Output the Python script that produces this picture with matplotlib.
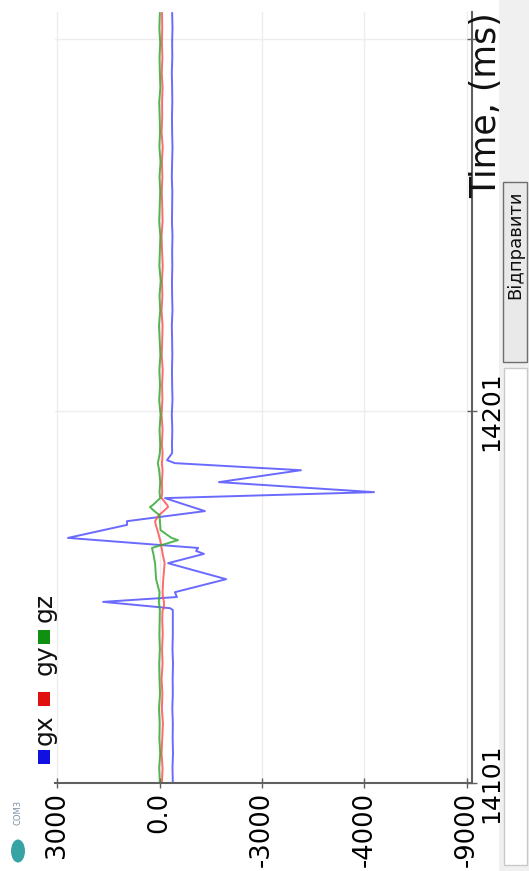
import matplotlib
matplotlib.use("Agg")
import matplotlib.pyplot as plt
from matplotlib.patches import Rectangle, Circle

plt.rcParams['font.family'] = ['DejaVu Sans']
plt.rcParams['axes.unicode_minus'] = False

# ---- gyroscope samples (time in ms, raw readings) ----
time_ms = [
    14101, 14105, 14109, 14113, 14117, 14121, 14125, 14129, 14133, 14137, 14141, 14145,
    14147.5, 14148.0, 14149.7, 14151.0, 14152.3, 14155.8, 14160.1, 14162.6, 14163.4,
    14164.2, 14166.3, 14166.9, 14169.0, 14170.4, 14171.4, 14173.0, 14174.1, 14175.2,
    14175.7, 14177.6, 14179.2, 14181.9, 14185.1, 14187.0, 14187.8, 14189.7,
    14192, 14196, 14200, 14204, 14208, 14212, 14216, 14220, 14224, 14228,
    14232, 14236, 14240, 14244, 14248, 14252, 14256, 14260, 14264, 14268,
    14272, 14276, 14280, 14284, 14288, 14292, 14296, 14300, 14304, 14308,
]
gx = [
    -390, -380, -395, -385, -390, -375, -390, -385, -395, -380, -390, -390,
    -390, -310, 1650, -510, -450, -1950, -250, -1300, -1070,
    -1130, 1830, 2680, 1640, 950, 950, -400, -1330, -960,
    -790, -160, -6280, -1740, -4140, -450, -220, -370,
    -365, -375, -360, -380, -370, -365, -375, -370, -360, -380,
    -370, -365, -375, -370, -380, -365, -370, -375, -360, -370,
    -380, -370, -365, -375, -370, -360, -375, -370, -380, -370,
]
gy = [
    -70, -90, -60, -80, -100, -70, -85, -60, -90, -75, -95, -80,
    -90, -130, -130, -100, -90, -110, -150, -90, -80,
    -60, -20, 0, 60, 110, 130, 20, -120, -250,
    -230, -60, -80, -70, -90, -70, -80, -90,
    -70, -90, -60, -85, -75, -95, -65, -80, -90, -60,
    -85, -70, -95, -75, -60, -90, -80, -65, -85, -70,
    -95, -60, -80, -75, -90, -65, -85, -70, -80, -75,
]
gz = [
    -10, 10, -20, 5, -5, 15, -15, 0, 10, -10, 5, -5,
    -10, 0, 20, 10, 0, 100, 130, 180, 200,
    220, -540, -350, -30, -20, -10, 0, 150, 280,
    200, -20, 0, -20, 10, 50, 30, -10,
    -20, 0, -30, 10, -15, 5, -25, -5, 15, -20,
    0, -35, 5, -10, -25, 10, -5, -20, 0, -30,
    5, -15, -5, 10, -25, -10, 0, -20, 5, -10,
]

series_names = ['gx', 'gy', 'gz']
series_colors = ['#5050ff', '#ff5050', '#33aa33']

value_ticks = [3000, 0, -3000, -6000, -9000]
value_tick_labels = ['3000', '0.0', '-3000', '-4000', '-9000']
time_ticks = [14101, 14201, 14301]
time_tick_labels = ['14101', '14201', '']

W, H = 529, 871
fig = plt.figure(figsize=(W / 100, H / 100), dpi=100)
fig.patch.set_facecolor('white')


def fx(px):
    return px / W


def fy(py):
    return 1 - py / H


ax = fig.add_axes([fx(55), fy(783), fx(472) - fx(55), fy(12) - fy(783)])

for vals, name, col in zip([gx, gy, gz], series_names, series_colors):
    ax.plot(vals, time_ms, color=col, lw=1.4, alpha=0.85, label=name)

ax.set_xlim(3059, -9147)
ax.set_ylim(14101, 14308.3)

ax.set_xticks(value_ticks)
ax.set_xticklabels(value_tick_labels)
ax.set_yticks(time_ticks)
ax.set_yticklabels(time_tick_labels)
ax.yaxis.tick_right()

ax.grid(True, color='#ededed', linewidth=1.0)
ax.set_axisbelow(True)

for side in ['left', 'top']:
    ax.spines[side].set_visible(False)
for side in ['bottom', 'right']:
    ax.spines[side].set_color('#5f5f5f')
    ax.spines[side].set_linewidth(1.5)

ax.tick_params(axis='x', direction='inout', length=7, width=1, color='#5f5f5f',
               labelsize=18.5, labelrotation=90, pad=3)
ax.tick_params(axis='y', direction='inout', length=7, width=1, color='#5f5f5f',
               labelsize=18, labelrotation=90, pad=2)
for lab in ax.get_yticklabels():
    lab.set_va('center')

# axis title along the time axis
fig.text(fx(486), fy(12), 'Time, (ms)', rotation=90, ha='center', va='top',
         fontsize=25, color='#111111')

# series key on the left edge
key_items = [('gx', 730, 757), ('gy', 660, 699), ('gz', 607, 637)]
for (name, ty, sy), col in zip(key_items, ['#1010e0', '#e01010', '#109010']):
    fig.add_artist(Rectangle((fx(38), fy(sy + 7)), fx(12), fy(sy - 7) - fy(sy + 7),
                             transform=fig.transFigure, facecolor=col, edgecolor='none'))
    fig.text(fx(45), fy(ty), name, rotation=90, ha='center', va='center',
             fontsize=18, color='#111111')

# port indicator
fig.add_artist(Circle((fx(18), fy(851)), 7 / W, transform=fig.transFigure,
                      facecolor='#38a3a5', edgecolor='none'))
fig.text(fx(18), fy(812), 'COM3', rotation=90, ha='center', va='center',
         fontsize=6, color='#7b8ea6')

# send panel on the right
fig.add_artist(Rectangle((fx(499), 0), fx(30), 1, transform=fig.transFigure,
                         facecolor='#f0f0f0', edgecolor='none', zorder=0))
fig.add_artist(Rectangle((fx(503), fy(362)), fx(24), fy(182) - fy(362),
                         transform=fig.transFigure, facecolor='#e9e9e9',
                         edgecolor='#6e6e6e', lw=1))
fig.text(fx(515), fy(245), 'Відправити', rotation=90, ha='center', va='center',
         fontsize=13, color='#111111')
fig.add_artist(Rectangle((fx(504), fy(865)), fx(23), fy(368) - fy(865),
                         transform=fig.transFigure, facecolor='white',
                         edgecolor='#c9c9c9', lw=1))

fig.savefig('out.png', dpi=100)
